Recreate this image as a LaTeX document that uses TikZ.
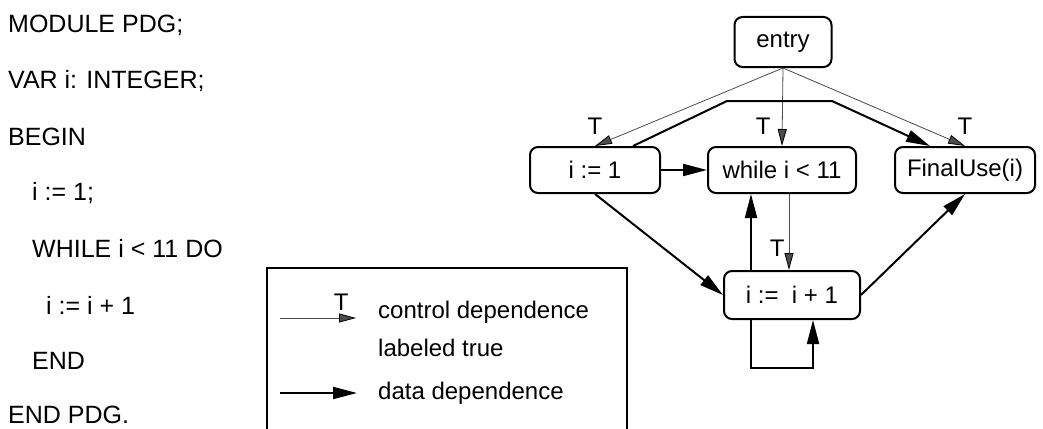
\documentclass[tikz,border=0pt]{standalone}
\usepackage{fontspec}
\setmainfont{Liberation Sans}
\usetikzlibrary{arrows.meta}
\tikzstyle{box}=[draw,line width=2pt,rounded corners=8pt,inner sep=0pt,
                 minimum height=46pt]
\tikzstyle{ctrl}=[-{Triangle[length=17pt,width=9pt,color=black]},
                  line width=.8pt,black!70]
\tikzstyle{data}=[-{Triangle[length=24pt,width=12pt]},line width=2pt,black]
\tikzstyle{code}=[anchor=west,inner sep=0pt,font=\fontsize{25}{30}\selectfont]
\tikzstyle{ltext}=[anchor=west,inner sep=0pt]
\tikzstyle{tlab}=[inner sep=1pt,text=black]
\begin{document}
\begin{tikzpicture}[x=1pt,y=-1pt,font=\fontsize{24}{29}\selectfont]
	\useasboundingbox (0,0) rectangle (1043,428);
	% program
	\node[code] (p1) at (8,25)  {MODULE PDG;};
	\node[code] (p2) at (8,81)  {VAR i: INTEGER;};
	\node[code] (p3) at (8,137) {BEGIN};
	\node[code] (p4) at (32,193) {i := 1;};
	\node[code] (p5) at (32,249) {WHILE i < 11 DO};
	\node[code] (p6) at (46,305) {i := i + 1};
	\node[code] (p7) at (32,361) {END};
	\node[code] (p8) at (8,415) {END PDG.};

	% legend
	\draw[line width=2pt] (267,432) -- (267,268) -- (627,268) -- (627,432);
	\coordinate (c0) at (280,318);
	\coordinate (c1) at (356,318);
	\coordinate (d0) at (280,393);
	\coordinate (d1) at (357,393);
	\path [ctrl] (c0) edge node[tlab,at end,above left=6pt] {T} (c1);
	\path [data] (d0) edge (d1);
	\node[ltext] (lc) at (378,312) {control dependence};
	\node[ltext] (lt) at (378,348) {labeled true};
	\node[ltext] (ld) at (378,393) {data dependence};

	% graph
	\node[box,minimum width=97pt,minimum height=50pt] (entry) at (783,42) {entry};
	\node[box,minimum width=130pt] (i1) at (595,170) {i := 1};
	\node[box,minimum width=148pt] (wh) at (782,170) {while i < 11};
	\node[box,minimum width=140pt] (fu) at (965,170) {FinalUse(i)};
	\node[box,minimum width=136pt,minimum height=48pt] (inc) at (792,295) {i :=~ i + 1};

	\coordinate (barL) at (727,101);
	\coordinate (barR) at (832,101);
	\coordinate (lpL) at (751,368);
	\coordinate (lpR) at (813,368);

  \path [ctrl]
        (entry.south) edge node[tlab,at end,above=10pt] {T} (i1.north);
  \path [ctrl]
        (entry.south) edge node[tlab,at end,above left=10pt] {T} (wh.north);
  \path [ctrl]
        (entry.south) edge node[tlab,at end,above=10pt] {T} (fu.north);
  \path [ctrl]
        ([xshift=7pt]wh.south) edge node[tlab,pos=.72,left=3pt] {T}
        ([xshift=-3pt]inc.north);
  \path [data]
        (i1.east) edge (wh.west);
  \path [data]
        (i1.south) edge (inc.west);
  \path [data]
        (inc.east) edge (fu.south);
  \path [data]
        ([xshift=-41pt]inc.north) edge ([xshift=-41pt]inc.north |- wh.south);
  \draw [data] ([xshift=38pt]i1.north) -- (barL) -- (barR) -- ([xshift=-35pt]fu.north);
  \draw [data] (inc.south -| lpL) -- (lpL) -- (lpR) -- (inc.south -| lpR);
\end{tikzpicture}
\end{document}
